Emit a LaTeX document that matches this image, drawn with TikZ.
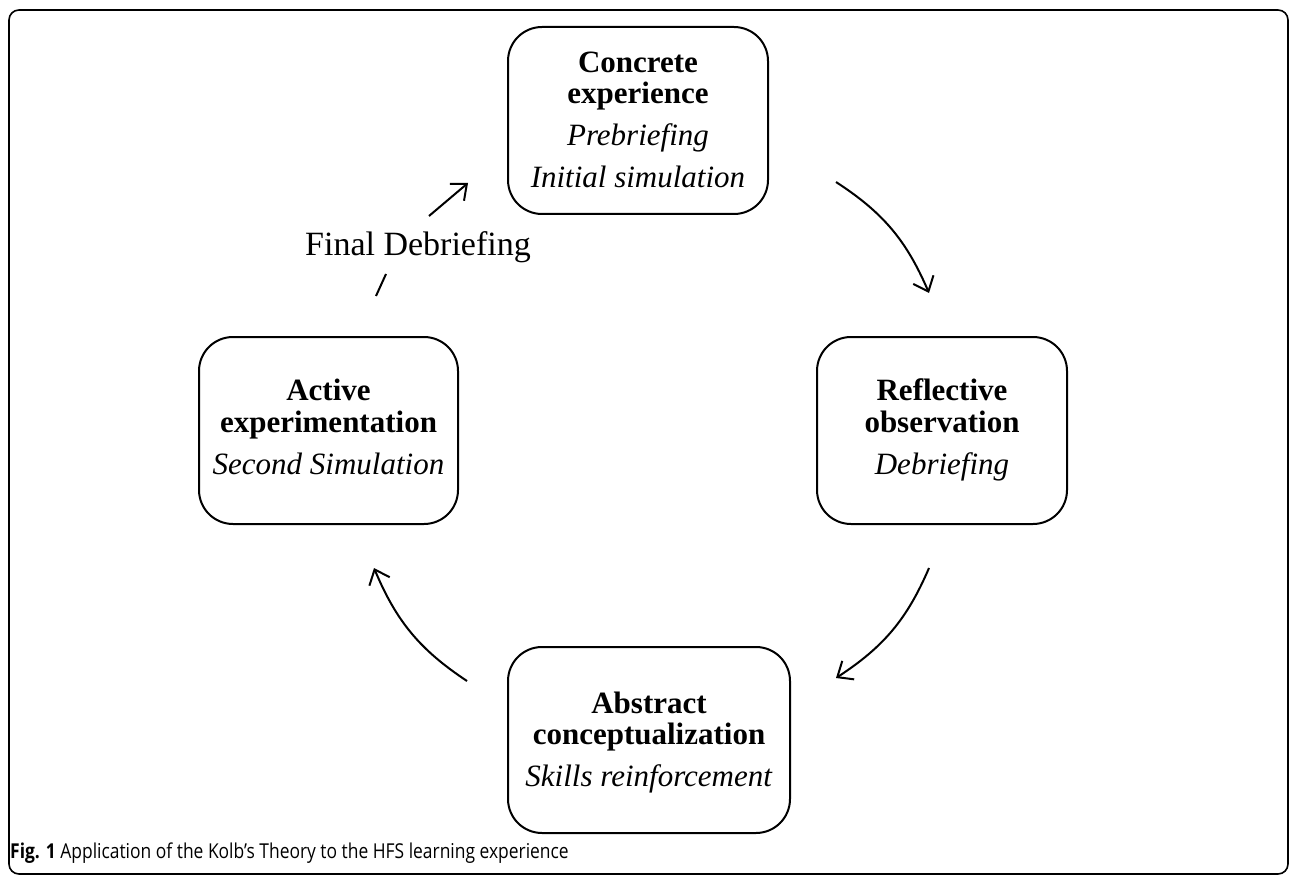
\documentclass[tikz,border=0pt]{standalone}
\usepackage{fontspec}
\setmainfont{Liberation Serif}
\newfontfamily\capfont[FakeStretch=0.85]{Open Sans}
\usetikzlibrary{arrows.meta,bending}
\tikzset{
  box/.style={draw, line width=2pt, rounded corners=34pt, inner sep=0pt},
  txt/.style={align=center, inner sep=0pt, font=\fontsize{31}{30}\selectfont},
  conn/.style={line width=2pt, -{Straight Barb[length=13pt,width=22pt,line width=2pt]}},
  plain/.style={line width=2pt}
}
\begin{document}
\begin{tikzpicture}[x=1pt,y=-1pt]
\useasboundingbox (0,0) rectangle (1290,877);
\draw[line width=1.6pt, rounded corners=10pt] (9,10) rectangle (1288,874);
% boxes
\node[box, minimum width=260pt, minimum height=187pt] (ce) at (638,120.5) {};
\node[box, minimum width=250pt, minimum height=187pt] (ro) at (942,430.5) {};
\node[box, minimum width=282pt, minimum height=186pt] (ac) at (649,740) {};
\node[box, minimum width=259pt, minimum height=187pt] (ae) at (328.5,430.5) {};
% texts
\node[txt] (cet) at (638,124) {\strut\textbf{Concrete}\\\textbf{experience}\\[12pt]\textit{Prebriefing}\\[12pt]\textit{Initial simulation}\strut};
\node[txt] (rot) at (942,431) {\strut\textbf{Reflective}\\\textbf{observation}\\[12pt]\textit{Debriefing}\strut};
\node[txt] (act) at (649,743.5) {\strut\textbf{Abstract}\\\textbf{conceptualization}\\[12pt]\textit{Skills reinforcement}\strut};
\node[txt] (aet) at (328.5,431) {\strut\textbf{Active}\\\textbf{experimentation}\\[12pt]\textit{Second Simulation}\strut};
% final debriefing
\node[inner sep=0pt, font=\fontsize{34}{36}\selectfont] (fd) at (418,247) {Final Debriefing};
\coordinate (f1) at (376,296);
\coordinate (f2) at (386,274);
\coordinate (f3) at (429,216);
\coordinate (f4) at (468,183);
\draw[plain] (f1) -- (f2);
\draw[conn] (f3) -- (f4);
% curved arrows
\coordinate (c1s) at (836,182);
\coordinate (c1e) at (929,293);
\coordinate (c2s) at (929,568);
\coordinate (c2e) at (836,678);
\coordinate (c3s) at (467,681);
\coordinate (c3e) at (374,568);
\draw[conn] (c1s) to[bend left=17] (c1e);
\draw[conn] (c2s) to[bend left=17] (c2e);
\draw[conn] (c3s) to[bend left=17] (c3e);
% caption
\node[anchor=base west, inner sep=0pt, font=\capfont\fontsize{20.5}{24}\selectfont] (cap) at (10,858) {\textbf{Fig. 1} Application of the Kolb’s Theory to the HFS learning experience};
\end{tikzpicture}
\end{document}
